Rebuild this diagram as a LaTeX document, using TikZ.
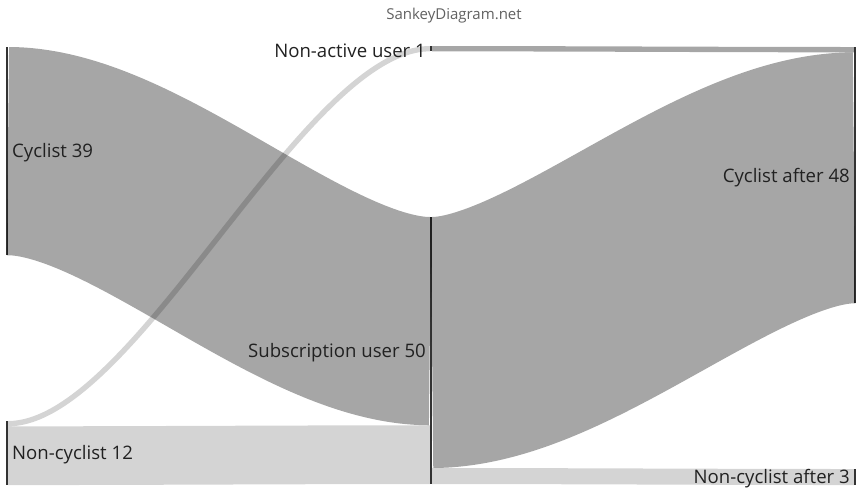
\documentclass[tikz,border=0pt]{standalone}
\usepackage{fontspec}
\setmainfont{Open Sans}
\usetikzlibrary{positioning,calc}

\definecolor{barcol}{HTML}{333333}
\def\k{5.34}

% one link of the diagram: style, value, from, to
\newcommand{\sflow}[4]{%
    \draw[#1, line width=#2*\k] (#3) .. controls ($(#3)!.3!(#4 |- #3)$) and ($(#4)!.3!(#3 |- #4)$) .. (#4);
}

\begin{document}
\begin{tikzpicture}[
        x = 1pt, y = -1pt,
        node distance = 4pt,
        bar/.style = {fill=barcol, minimum width=2pt, inner sep=0pt, outer sep=0pt, anchor=north},
        lbl/.style = {font=\fontsize{18.6}{22}\selectfont, text=black!87, inner sep=0pt, yshift=-2pt},
        dark/.style = {draw=black, draw opacity=0.35, line cap=butt},
        light/.style = {draw=black, draw opacity=0.17, line cap=butt}
    ]
        \useasboundingbox (0,0) rectangle (861,488);
        \node[font=\fontsize{15}{18}\selectfont, text=black!62] (title) at (454,16) {SankeyDiagram.net};
%
        \node[bar, minimum height=39*\k] (cyc)   at (7,47)   {};
        \node[bar, minimum height=12*\k] (ncyc)  at (7,421)  {};
        \node[bar, minimum height=\k]    (nact)  at (431,46) {};
        \node[bar, minimum height=50*\k] (sub)   at (431,217) {};
        \node[bar, minimum height=48*\k] (cyca)  at (855,47) {};
        \node[bar, minimum height=3*\k]  (ncyca) at (855,469) {};
%
        \coordinate (cyc-o)   at ($(cyc.north east)+(0,{19.5*\k})$);
        \coordinate (ncyc-o1) at ($(ncyc.north east)+(0,{0.5*\k})$);
        \coordinate (ncyc-o2) at ($(ncyc.north east)+(0,{6.5*\k})$);
        \coordinate (sub-i1)  at ($(sub.north west)+(0,{19.5*\k})$);
        \coordinate (sub-i2)  at ($(sub.north west)+(0,{44.5*\k})$);
        \coordinate (sub-o1)  at ($(sub.north east)+(0,{23.5*\k})$);
        \coordinate (sub-o2)  at ($(sub.north east)+(0,{48.5*\k})$);
        \coordinate (cyca-i1) at ($(cyca.north west)+(0,{0.5*\k})$);
        \coordinate (cyca-i2) at ($(cyca.north west)+(0,{24.5*\k})$);
%
        \sflow{dark}{39}{cyc-o}{sub-i1}
        \sflow{light}{1}{ncyc-o1}{nact.west}
        \sflow{light}{11}{ncyc-o2}{sub-i2}
        \sflow{dark}{1}{nact.east}{cyca-i1}
        \sflow{dark}{47}{sub-o1}{cyca-i2}
        \sflow{light}{3}{sub-o2}{ncyca.west}
%
        \node[lbl, right=of cyc]   (l-cyc)   {Cyclist 39};
        \node[lbl, right=of ncyc]  (l-ncyc)  {Non-cyclist 12};
        \node[lbl, left=of nact]   (l-nact)  {Non-active user 1};
        \node[lbl, left=of sub]    (l-sub)   {Subscription user 50};
        \node[lbl, left=of cyca]   (l-cyca)  {Cyclist after 48};
        \node[lbl, left=of ncyca]  (l-ncyca) {Non-cyclist after 3};
    \end{tikzpicture}
\end{document}
